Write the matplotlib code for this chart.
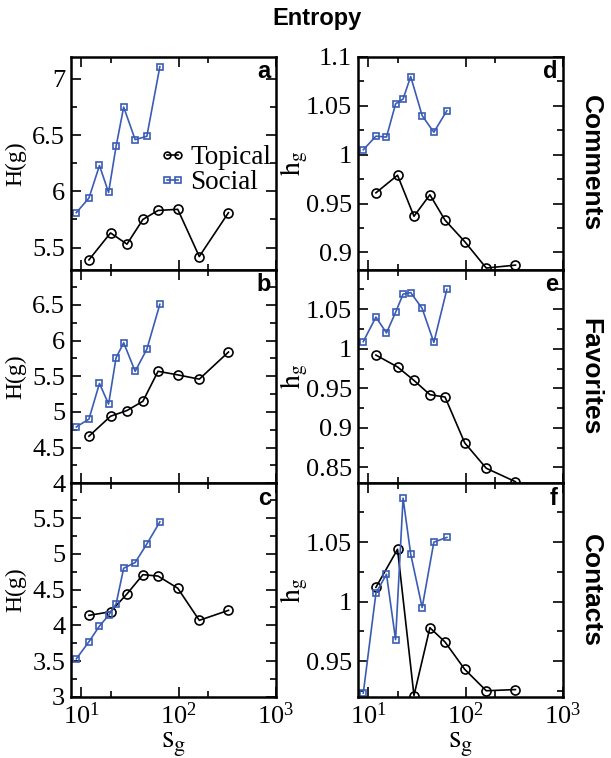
import numpy as np
import matplotlib
matplotlib.use('Agg')
import matplotlib.pyplot as plt
from matplotlib.ticker import FixedLocator, AutoMinorLocator, FuncFormatter, NullFormatter

plt.rcParams['font.family'] = 'Liberation Serif'
plt.rcParams['mathtext.fontset'] = 'stix'

BLUE = '#3a5cb4'

# bin centres (s_g)
x_top = [12, 20, 29.5, 43, 61.5, 98, 163, 325]
x_soc = [8.9, 12.0, 15.4, 19.1, 22.8, 27.3, 35.8, 47.2, 64.2]

# entropy H(g)
H_top_comments = [5.39, 5.63, 5.53, 5.75, 5.83, 5.84, 5.42, 5.81]
H_soc_comments = [5.81, 5.94, 6.23, 5.99, 6.40, 6.75, 6.46, 6.49, 7.11]
H_top_favorites = [4.66, 4.94, 5.02, 5.15, 5.57, 5.52, 5.46, 5.84]
H_soc_favorites = [4.79, 4.90, 5.40, 5.11, 5.76, 5.97, 5.57, 5.88, 6.51]
H_top_contacts = [4.14, 4.19, 4.44, 4.71, 4.69, 4.52, 4.07, 4.21]
H_soc_contacts = [3.53, 3.77, 3.99, 4.14, 4.30, 4.80, 4.88, 5.14, 5.45]

# normalised entropy h_g
h_top_comments = [0.961, 0.979, 0.937, 0.959, 0.933, 0.911, 0.884, 0.887]
h_soc_comments = [1.005, 1.019, 1.018, 1.052, 1.057, 1.080, 1.040, 1.023, 1.045]
h_top_favorites = [0.992, 0.977, 0.960, 0.942, 0.939, 0.881, 0.849, 0.832]
h_soc_favorites = [1.009, 1.040, 1.020, 1.046, 1.069, 1.071, 1.051, 1.008, 1.075]
h_top_contacts = [1.012, 1.044, 0.921, 0.978, 0.966, 0.943, 0.925, 0.926]
h_soc_contacts = [0.923, 1.007, 1.023, 0.968, 1.087, 1.040, 0.995, 1.050, 1.054]

rows = ['Comments', 'Favorites', 'Contacts']
letters = [['a', 'd'], ['b', 'e'], ['c', 'f']]

H_data = [(H_top_comments, H_soc_comments), (H_top_favorites, H_soc_favorites),
          (H_top_contacts, H_soc_contacts)]
h_data = [(h_top_comments, h_soc_comments), (h_top_favorites, h_soc_favorites),
          (h_top_contacts, h_soc_contacts)]

H_lims = [(5.3, 7.2), (4.0, 6.99), (3.0, 5.99)]
H_ticks = [[5.5, 6, 6.5, 7], [4, 4.5, 5, 5.5, 6, 6.5], [3, 3.5, 4, 4.5, 5, 5.5]]
h_lims = [(0.882, 1.1005), (0.83, 1.0995), (0.92, 1.0995)]
h_ticks = [[0.9, 0.95, 1.0, 1.05, 1.1], [0.85, 0.9, 0.95, 1.0, 1.05], [0.95, 1.0, 1.05]]

fig = plt.figure(figsize=(6.11, 7.58), dpi=100)

W, Hh = 611.0, 758.0
lefts = [70.7, 357.7]
axw = 205.3
tops = [56.5, 270.0, 483.3, 696.7]

fmt = FuncFormatter(lambda v, p: '%g' % v)


def style(ax, bottom):
    ax.set_xscale('log')
    ax.set_xlim(7.8, 1000)
    ax.xaxis.set_major_locator(FixedLocator([10, 100, 1000]))
    ax.xaxis.set_minor_locator(FixedLocator([20, 200]))
    ax.xaxis.set_minor_formatter(NullFormatter())
    if not bottom:
        ax.xaxis.set_major_formatter(NullFormatter())
    ax.yaxis.set_minor_locator(AutoMinorLocator(2))
    ax.yaxis.set_major_formatter(fmt)
    ax.tick_params(which='both', direction='in', top=True, right=True, width=1.2)
    ax.tick_params(which='major', length=7, labelsize=19, pad=4)
    ax.tick_params(which='minor', length=4)
    for s in ax.spines.values():
        s.set_linewidth(1.8)


for r in range(3):
    y0 = 1 - tops[r + 1] / Hh
    hgt = (tops[r + 1] - tops[r]) / Hh
    for c in range(2):
        ax = fig.add_axes([lefts[c] / W, y0, axw / W, hgt])
        style(ax, r == 2)
        if c == 0:
            top, soc = H_data[r]
            ax.set_ylim(*H_lims[r])
            ax.yaxis.set_major_locator(FixedLocator(H_ticks[r]))
            ax.set_ylabel('H(g)', fontsize=17)
            ax.yaxis.set_label_coords(-0.215, 0.5)
        else:
            top, soc = h_data[r]
            ax.set_ylim(*h_lims[r])
            ax.yaxis.set_major_locator(FixedLocator(h_ticks[r]))
            ax.set_ylabel(r'$\mathrm{h_g}$', fontsize=20)
            ax.yaxis.set_label_coords(-0.232, 0.5)
        ax.plot(x_top, top, color='black', lw=1.2, marker='o', ms=6.5,
                mfc='none', mec='black', mew=1.2, label='Topical')
        ax.plot(x_soc, soc, color=BLUE, lw=1.2, marker='s', ms=5,
                mfc='none', mec=BLUE, mew=1.2, label='Social')
        if r == 2:
            ax.set_xlabel(r'$\mathrm{s_g}$', fontsize=23, labelpad=1)
        ax.text(0.975, 0.985, letters[r][c], transform=ax.transAxes,
                ha='right', va='top', fontsize=17, fontweight='bold',
                family='Liberation Sans')
        if r == 0 and c == 0:
            ax.legend(loc='upper left', bbox_to_anchor=(0.43, 0.585), frameon=False,
                      fontsize=19.5, handlelength=1.0, handletextpad=0.15,
                      labelspacing=0.0, borderpad=0, borderaxespad=0,
                      markerscale=0.75, numpoints=2)
        if c == 1:
            ax.text(1.135, 0.5, rows[r], transform=ax.transAxes, rotation=-90,
                    ha='center', va='center', fontsize=19, fontweight='bold',
                    family='Liberation Sans')

fig.text(317 / W, 1 - 18 / Hh, 'Entropy', ha='center', va='center',
         fontsize=17, fontweight='bold', family='Liberation Sans')

fig.savefig('out.png', dpi=100)
